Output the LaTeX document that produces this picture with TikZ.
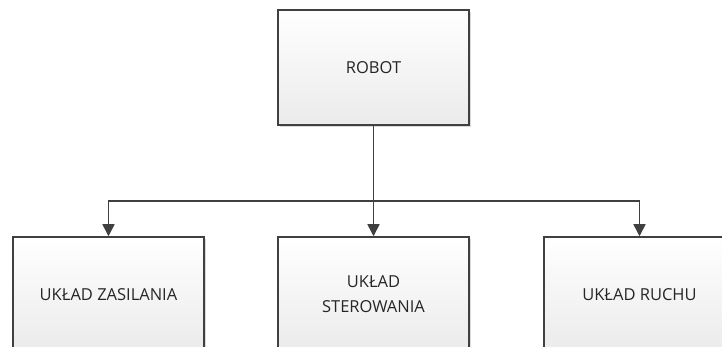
\documentclass[tikz,border=0pt]{standalone}
\usepackage{fontspec}
\setmainfont{Open Sans}
\usetikzlibrary{arrows.meta,shadows}
\begin{document}
\begin{tikzpicture}[x=1pt,y=-1pt,
 box/.style={draw=black!75, line width=1.5pt, top color=white, bottom color=black!8,
   minimum width=191pt, minimum height=115pt, inner sep=0pt, align=center,
   font=\fontsize{16.5}{25}\selectfont, text=black!85,
   drop shadow={shadow xshift=2pt, shadow yshift=-2pt, fill=black!25, opacity=0.6}},
 conn/.style={draw=black!75, line width=1.5pt, -{Triangle[width=12pt,length=12pt]}}]
\useasboundingbox (0,0) rectangle (722,347);
\clip (0,0) rectangle (722,347);
\node[box] (robot) at (373.5,67.5) {ROBOT};
\node[box] (zas) at (108.5,294.5) {UKŁAD ZASILANIA};
\node[box] (ster) at (373.5,294.5) {UKŁAD\\STEROWANIA};
\node[box] (ruch) at (639.5,294.5) {UKŁAD RUCHU};
\coordinate (bus) at (373.5,201);
\draw[conn] (robot.south) -- (ster.north);
\draw[conn] (bus) -| (zas.north);
\draw[conn] (bus) -| (ruch.north);
\end{tikzpicture}
\end{document}
